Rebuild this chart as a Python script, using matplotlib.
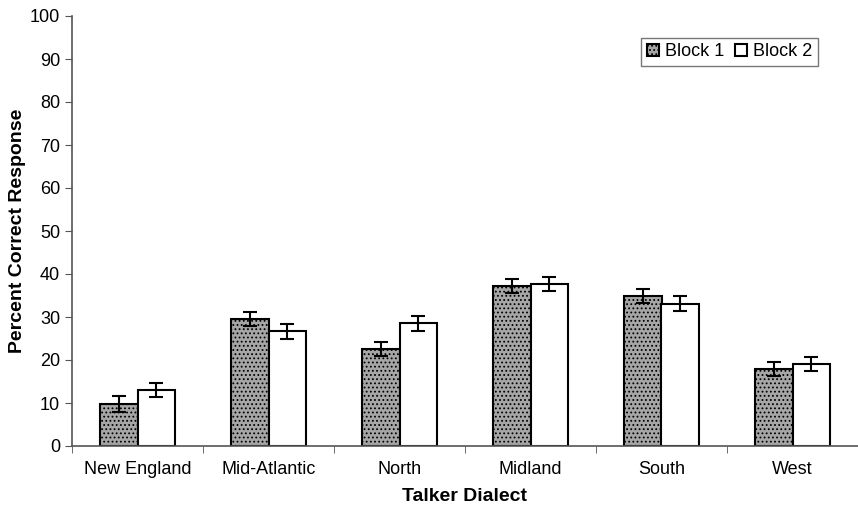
import numpy as np
import matplotlib.pyplot as plt

plt.rcParams['font.family'] = ['Liberation Sans', 'DejaVu Sans']
plt.rcParams['hatch.color'] = "#808080"
plt.rcParams['hatch.linewidth'] = 0.8

# ---------- Data ----------
dialects = ["New England", "Mid-Atlantic", "North", "Midland", "South", "West"]
block1 = [9.8, 29.5, 22.6, 37.2, 34.8, 17.9]
block2 = [13.0, 26.7, 28.5, 37.7, 33.1, 19.1]
err1 = [1.8, 1.7, 1.7, 1.7, 1.6, 1.7]
err2 = [1.7, 1.7, 1.7, 1.7, 1.7, 1.7]

# ---------- Plot ----------
fig = plt.figure(figsize=(8.58, 5.12), dpi=100)
ax = fig.add_axes([72/858, 1 - 446/512, 1 - 72/858, 430/512])

x = np.arange(len(dialects))
w = 0.29
ekw = dict(elinewidth=1.5, capthick=1.5, capsize=5, ecolor="black")
ax.bar(x - w/2, block1, w, yerr=err1, color="#a6a6a6", edgecolor="black",
       linewidth=1.5, hatch="....", error_kw=ekw, label="Block 1")
ax.bar(x + w/2, block2, w, yerr=err2, color="white", edgecolor="black",
       linewidth=1.5, error_kw=ekw, label="Block 2")

ax.set_xlim(-0.5, len(dialects) - 0.5)
ax.set_ylim(0, 100)
ax.set_yticks(range(0, 101, 10))
ax.set_xticks(x)
ax.set_xticklabels(dialects, fontsize=13)
ax.set_xticks(np.arange(-0.5, len(dialects), 1), minor=True)
ax.tick_params(axis="x", which="major", length=0, pad=11)
ax.tick_params(axis="x", which="minor", length=5, color="#555555")
ax.tick_params(axis="y", labelsize=13, length=5, color="#555555")

for s in ["top", "right"]:
    ax.spines[s].set_visible(False)
for s in ["left", "bottom"]:
    ax.spines[s].set_color("#555555")
    ax.spines[s].set_linewidth(1.2)

ax.set_xlabel("Talker Dialect", fontsize=14, fontweight="bold", labelpad=7)
ax.set_ylabel("Percent Correct Response", fontsize=14, fontweight="bold", labelpad=3)

leg = ax.legend(loc="upper right", bbox_to_anchor=(0.96, 0.97), ncol=2,
                fontsize=13, frameon=True, fancybox=False, edgecolor="#555555",
                handlelength=0.7, handleheight=0.7, handletextpad=0.3,
                columnspacing=0.6, borderpad=0.3)
leg.get_frame().set_linewidth(1.0)

plt.savefig("out.png", dpi=100)
